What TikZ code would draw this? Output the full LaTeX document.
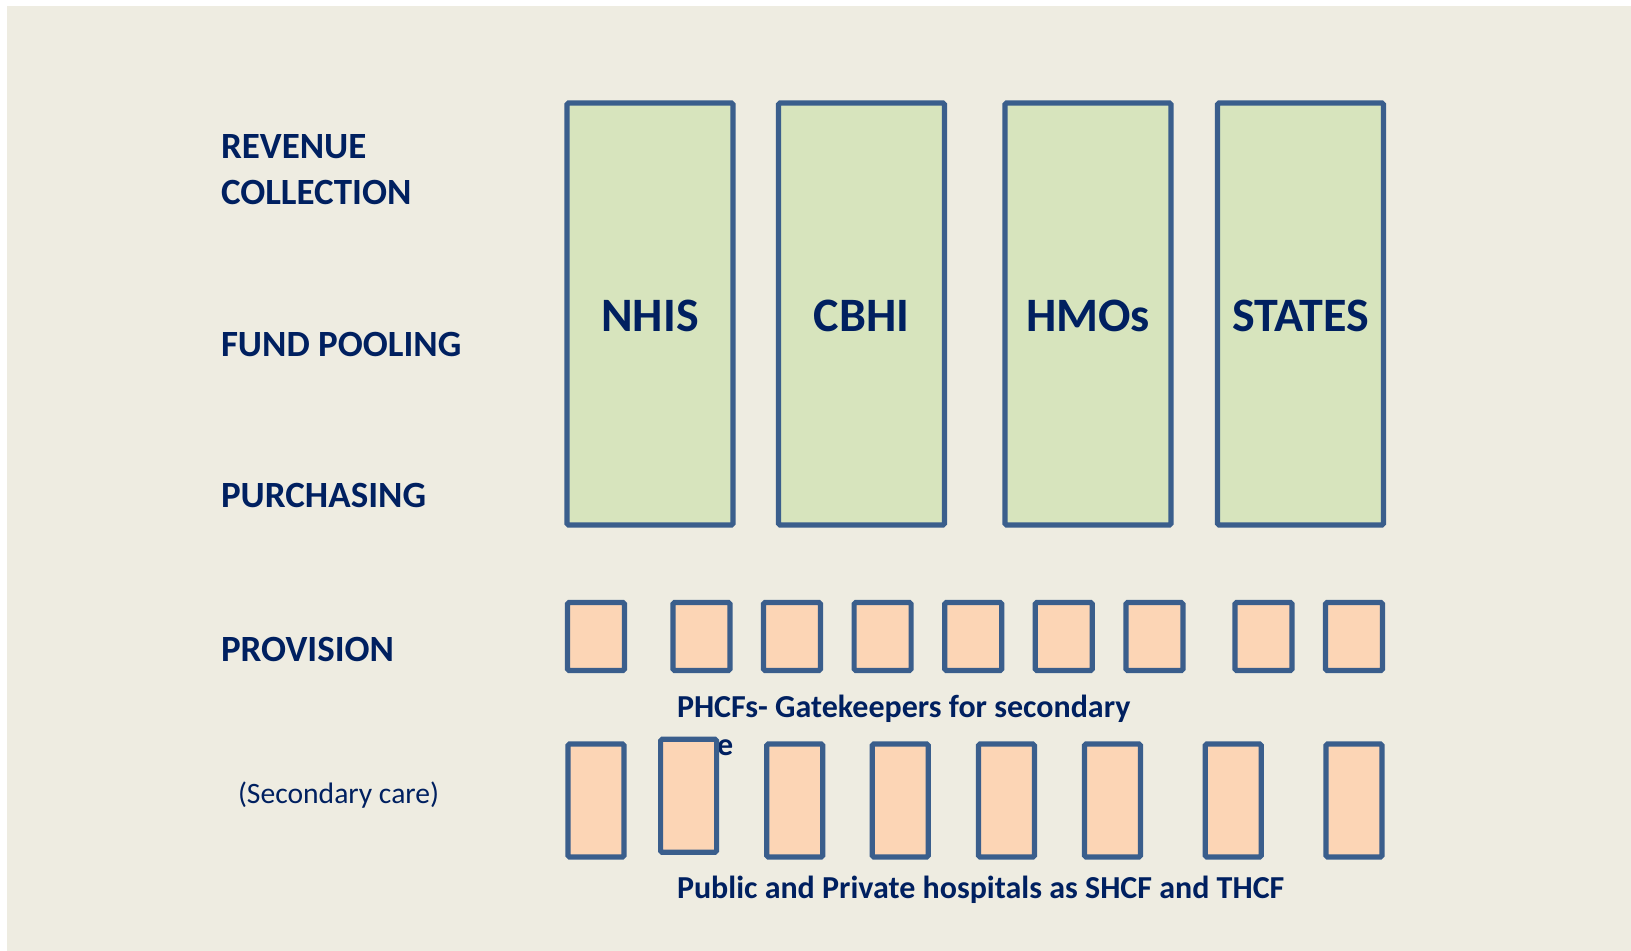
\documentclass[tikz,border=0pt]{standalone}
\usepackage{fontspec}
\setmainfont{Carlito}
\definecolor{pagebg}{HTML}{EEECE1}
\definecolor{edgeblue}{HTML}{3A5E8C}
\definecolor{poolgreen}{HTML}{D7E4BD}
\definecolor{careorange}{HTML}{FCD5B5}
\definecolor{inkblue}{HTML}{002060}
\begin{document}
\begin{tikzpicture}[x=0.5pt,y=-0.5pt,
  every node/.style={inner sep=0pt,outer sep=0pt},
  poolbox/.style={draw=edgeblue,fill=poolgreen,line width=2.6pt,rounded corners=0.8pt,
    minimum width=83pt,minimum height=211pt},
  poolname/.style={text=inkblue,font=\fontsize{24}{28}\selectfont\bfseries},
  phcbox/.style={draw=edgeblue,fill=careorange,line width=2.6pt,rounded corners=0.8pt,
    minimum width=28.5pt,minimum height=34pt},
  hospbox/.style={draw=edgeblue,fill=careorange,line width=2.6pt,rounded corners=0.8pt,
    minimum width=28pt,minimum height=56.5pt},
  stage/.style={anchor=base west,text=inkblue,font=\fontsize{18.5}{22}\selectfont\bfseries},
  caption/.style={anchor=base west,text=inkblue,font=\fontsize{16}{19.5}\selectfont\bfseries}]
\useasboundingbox (0,0) rectangle (1631,951);
\fill[white] (0,0) rectangle (1631,951);
\fill[pagebg] (7,6) rectangle (1631,951);

% functions of health financing
\node[stage] (rev) at (221,159) {REVENUE};
\node[stage] (col) at (221,205) {COLLECTION};
\node[stage] (pool) at (221,357) {FUND POOLING};
\node[stage] (purch) at (221,507) {PURCHASING};
\node[stage] (prov) at (221,661) {PROVISION};
\node[anchor=base west,text=inkblue,font=\fontsize{14.8}{18}\selectfont] (sec) at (238,803) {(Secondary care)};

% financing agents
\node[poolbox] (nhis) at (650,314) {};
\node[poolbox] (cbhi) at (861.5,314) {};
\node[poolbox] (hmo) at (1088,314) {};
\node[poolbox] (states) at (1300.5,314) {};
\node[poolname] (nhisname) at (650,316) {NHIS};
\node[poolname] (cbhiname) at (861.5,316) {CBHI};
\node[poolname] (hmoname) at (1088,316) {HMOs};
\node[poolname] (statesname) at (1300.5,316) {STATES};

% primary health care facilities
\foreach \i/\x in {1/596,2/701.5,3/792,4/882.6,5/973.2,6/1063.8,7/1154.4,8/1263.5,9/1354}
  \node[phcbox] (p\i) at (\x,636.5) {};

\node[caption] (phctext) at (677,717) {PHCFs- Gatekeepers for secondary};
\node[caption] (phctextb) at (677,755) {care};

% secondary and tertiary hospitals
\foreach \i/\x in {1/596,3/794.7,4/900.3,5/1006.4,6/1112.5,7/1233.2,8/1354}
  \node[hospbox] (h\i) at (\x,800.5) {};
\node[hospbox] (h2) at (688.6,795.8) {};

\node[caption] (hosptext) at (677,898) {Public and Private hospitals as SHCF and THCF};
\end{tikzpicture}
\end{document}
